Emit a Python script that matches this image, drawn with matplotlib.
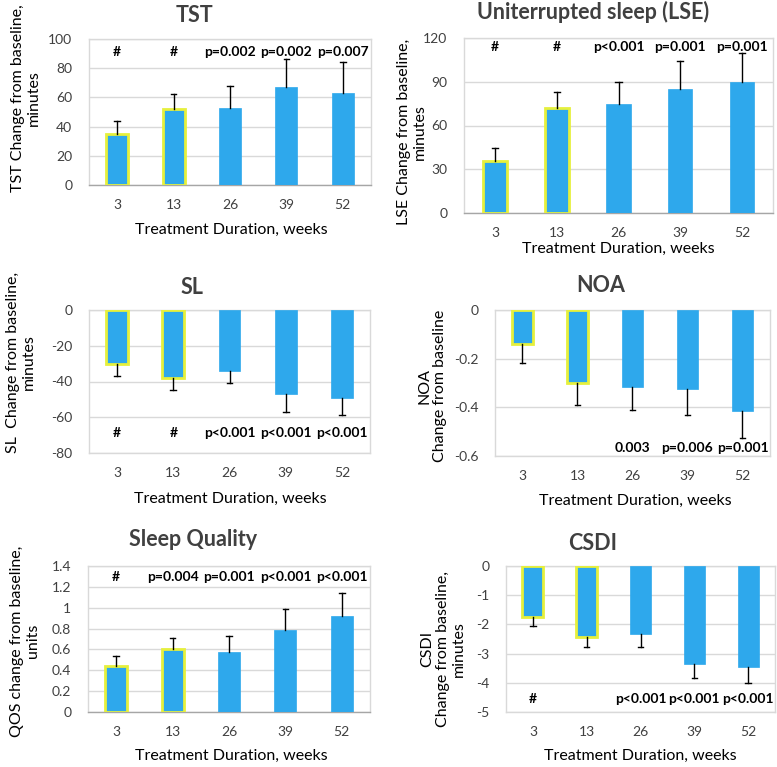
import matplotlib
matplotlib.use("Agg")
import matplotlib.pyplot as plt
import numpy as np

plt.rcParams['font.family'] = ['Lato', 'DejaVu Sans']

weeks = ["3", "13", "26", "39", "52"]

tst_mean = [35, 52, 53, 67, 63]
tst_err = [9, 10, 15, 19, 21]
tst_p = ["#", "#", "p=0.002", "p=0.002", "p=0.007"]

lse_mean = [35.5, 72, 75, 85, 90]
lse_err = [9, 11, 15, 19, 20]
lse_p = ["#", "#", "p<0.001", "p=0.001", "p=0.001"]

sl_mean = [-30, -38, -34, -47, -49]
sl_err = [-7, -7, -7, -10, -10]
sl_p = ["#", "#", "p<0.001", "p<0.001", "p<0.001"]

noa_mean = [-0.14, -0.30, -0.315, -0.325, -0.414]
noa_err = [-0.078, -0.092, -0.096, -0.107, -0.11]
noa_p = ["", "", "0.003", "p=0.006", "p=0.001"]

qos_mean = [0.445, 0.605, 0.575, 0.79, 0.92]
qos_err = [0.093, 0.103, 0.15, 0.195, 0.217]
qos_p = ["#", "p=0.004", "p=0.001", "p<0.001", "p<0.001"]

csdi_mean = [-1.74, -2.44, -2.32, -3.36, -3.47]
csdi_err = [-0.31, -0.34, -0.46, -0.48, -0.52]
csdi_p = ["#", "", "p<0.001", "p<0.001", "p<0.001"]

W, H = 777, 767
fig = plt.figure(figsize=(W / 100, H / 100), dpi=100)

BAR = "#2EA8EC"
YEL = "#E6F03C"
GRID = "#D9D9D9"
TXT = "#404040"

def px_axes(l, r, t, b):
    return fig.add_axes([l / W, 1 - b / H, (r - l) / W, (b - t) / H])

def panel(rect, mean, err, plabels, ylim, yticks, yticklabels, ptext_y,
          title, title_xy, ylabel, ylabel_xy, xlabel_xy):
    ax = px_axes(*rect)
    x = np.arange(len(weeks))
    for i in range(len(weeks)):
        if i < 2:
            ax.bar(x[i], mean[i], width=0.39, color=BAR, edgecolor=YEL,
                   linewidth=2.0, zorder=3)
        else:
            ax.bar(x[i], mean[i], width=0.39, color=BAR, edgecolor=BAR,
                   linewidth=0.5, zorder=3)
        top = mean[i] + err[i]
        ax.plot([x[i], x[i]], [mean[i], top], color="black", lw=1.0, zorder=4)
        ax.plot([x[i] - 0.05, x[i] + 0.05], [top, top], color="black", lw=1.0, zorder=4)
        ax.text(x[i], ptext_y, plabels[i], ha="center", va="center",
                fontsize=10, fontweight="bold", color="black", zorder=5)
    ax.set_xlim(-0.5, len(weeks) - 0.5)
    ax.set_ylim(*ylim)
    ax.set_yticks(yticks)
    ax.set_yticklabels(yticklabels, fontsize=10, color=TXT)
    ax.set_xticks(x)
    ax.set_xticklabels(weeks, fontsize=10, color=TXT)
    ax.tick_params(length=0, pad=10)
    ax.tick_params(axis="y", pad=12)
    ax.grid(axis="y", color=GRID, lw=1.0, zorder=0)
    for s in ax.spines.values():
        s.set_color(GRID)
        s.set_linewidth(1.0)
    if ylim[0] == 0:
        ax.spines["bottom"].set_color("#A6A6A6")
    fig.text(title_xy[0] / W, 1 - title_xy[1] / H, title, ha="center",
             va="center", fontsize=15.5, fontweight="bold", color=TXT)
    fig.text(ylabel_xy[0] / W, 1 - ylabel_xy[1] / H, ylabel, ha="center",
             va="center", rotation=90, fontsize=11.5, color="black",
             multialignment="center", linespacing=1.15)
    fig.text(xlabel_xy[0] / W, 1 - xlabel_xy[1] / H,
             "Treatment Duration, weeks", ha="center", va="center",
             fontsize=11.5, color="black")
    return ax

panel((89, 371, 39, 185), tst_mean, tst_err, tst_p, (0, 100),
      [0, 20, 40, 60, 80, 100], ["0", "20", "40", "60", "80", "100"], 91,
      "TST", (195, 15), "TST Change from baseline,\nminutes", (26, 98),
      (231, 230))

panel((464, 773, 38, 213), lse_mean, lse_err, lse_p, (0, 120),
      [0, 30, 60, 90, 120], ["0", "30", "60", "90", "120"], 114,
      "Uniterrupted sleep (LSE)", (593, 12),
      "LSE Change from baseline,\nminutes", (412, 132), (618, 249))

panel((89, 370, 310, 453), sl_mean, sl_err, sl_p, (-80, 0),
      [-80, -60, -40, -20, 0], ["-80", "-60", "-40", "-20", "0"], -69,
      "SL", (192, 287), "SL  Change from baseline,\nminutes", (21, 362),
      (230, 499))

panel((495, 770, 310, 456), noa_mean, noa_err, noa_p, (-0.6, 0),
      [-0.6, -0.4, -0.2, 0], ["-0.6", "-0.4", "-0.2", "0"], -0.566,
      "NOA", (601, 286), "NOA\nChange from baseline", (432, 386),
      (635, 501))

panel((88, 370, 566, 712), qos_mean, qos_err, qos_p, (0, 1.4),
      [0, 0.2, 0.4, 0.6, 0.8, 1.0, 1.2, 1.4],
      ["0", "0.2", "0.4", "0.6", "0.8", "1", "1.2", "1.4"], 1.29,
      "Sleep Quality", (193, 539), "QOS change from baseline,\nunits",
      (25, 641), (231, 756))

panel((506, 775, 566, 712), csdi_mean, csdi_err, csdi_p, (-5, 0),
      [-5, -4, -3, -2, -1, 0], ["-5", "-4", "-3", "-2", "-1", "0"], -4.56,
      "CSDI", (593, 544), "CSDI\nChange from baseline,\nminutes",
      (443, 649), (640, 756))

fig.savefig("out.png", dpi=100)
